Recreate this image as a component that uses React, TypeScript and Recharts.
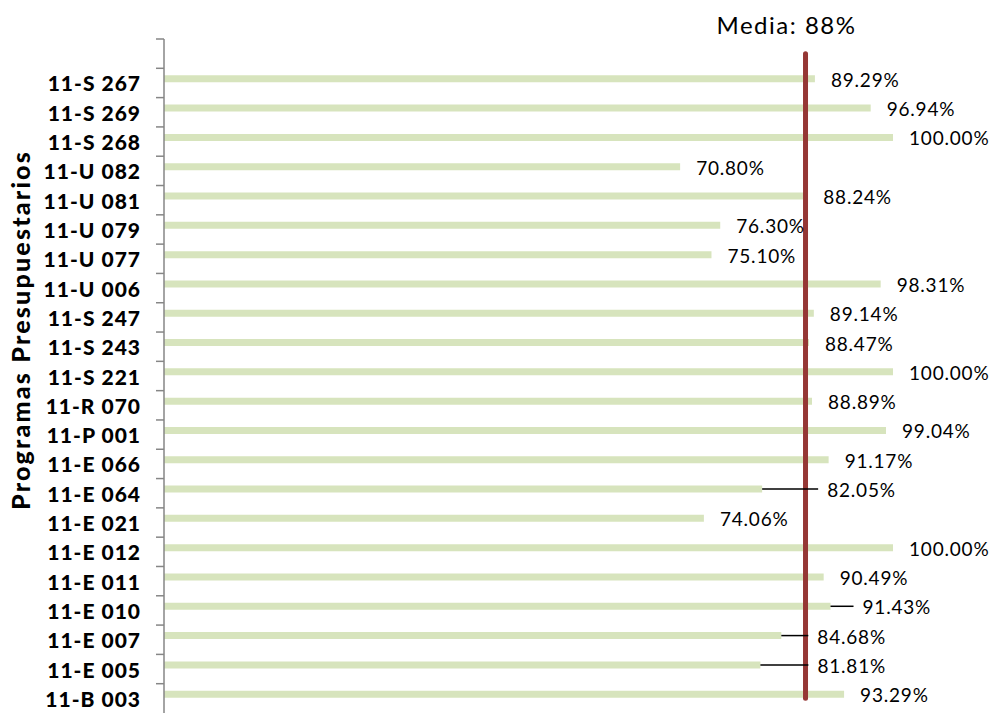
import React from 'react';
import { BarChart, Bar, XAxis, YAxis, ReferenceLine, LabelList } from 'recharts';

// la primera categoría va vacía: es el hueco de arriba donde empieza la línea de la media
const programas = [
  ' ',
  '11-S 267', '11-S 269', '11-S 268', '11-U 082', '11-U 081', '11-U 079', '11-U 077',
  '11-U 006', '11-S 247', '11-S 243', '11-S 221', '11-R 070', '11-P 001', '11-E 066',
  '11-E 064', '11-E 021', '11-E 012', '11-E 011', '11-E 010', '11-E 007', '11-E 005',
  '11-B 003',
];

const cumplimiento = [
  null,
  89.29, 96.94, 100.0, 70.8, 88.24, 76.3, 75.1,
  98.31, 89.14, 88.47, 100.0, 88.89, 99.04, 91.17,
  82.05, 74.06, 100.0, 90.49, 91.43, 84.68, 81.81,
  93.29,
];

const media = 88;
const xTicks = [0, 20, 40, 60, 80, 100];

const data = programas.map((programa, i) => ({ programa, valor: cumplimiento[i] }));

const FONT = 'Lato, "Open Sans", sans-serif';
const AXIS = '#868686';

// etiquetas que en el original se movieron a mano (con línea guía)
const leaderGap: Record<string, number> = {
  '11-E 064': 65,
  '11-E 010': 32,
  '11-E 007': 36,
  '11-E 005': 57,
};

const YTick = (props: any) => {
  const { x, y, payload, height, visibleTicksCount } = props;
  const half = payload.offset > 4 ? payload.offset : height / visibleTicksCount / 2;
  return (
    <g>
      <line x1={x - 8} x2={x} y1={y - half} y2={y - half} stroke={AXIS} strokeWidth={1.5} />
      <text x={x - 23} y={y + 8.5} textAnchor="end" fontFamily={FONT} fontWeight={900} fontSize={21} letterSpacing={1} fill="#000">
        {payload.value}
      </text>
    </g>
  );
};

const XTick = ({ x, y }: any) => (
  <line x1={x} x2={x} y1={y - 6} y2={y + 3} stroke={AXIS} strokeWidth={1.5} />
);

// la LabelList va por nombre de programa y busca el valor, así no depende del índice
const ValueLabel = (props: any) => {
  const { x, y, width, height, value } = props;
  const i = programas.indexOf(value);
  const v = i >= 0 ? cumplimiento[i] : null;
  if (v == null) return null;
  const gap = leaderGap[value];
  const end = x + width;
  const cy = y + height / 2;
  const tx = end + (gap ?? 16);
  return (
    <g>
      {gap && <line x1={end} x2={tx - 9} y1={cy} y2={cy} stroke="#000" strokeWidth={1.5} />}
      <text x={tx} y={cy + 8} fontFamily={FONT} fontSize={19} letterSpacing={0.8} fill="#000">
        {v.toFixed(2)}%
      </text>
    </g>
  );
};

const MediaLabel = (props: any) => {
  const { viewBox } = props;
  return (
    <text x={viewBox.x - 19} y={viewBox.y - 19.5} textAnchor="middle" fontFamily={FONT} fontSize={24} letterSpacing={1.5} fill="#000">
      Media: {media}%
    </text>
  );
};

export default function App() {
  return (
    <div style={{ position: 'absolute', left: 0, top: 0, background: '#fff' }}>
      <BarChart
        width={997}
        height={715}
        data={data}
        layout="vertical"
        margin={{ top: 39, right: 104, bottom: 2, left: 0 }}
        barSize={7}
        barGap={1}
      >
        <XAxis
          type="number"
          domain={[0, 100]}
          ticks={xTicks}
          interval={0}
          height={0}
          stroke={AXIS}
          strokeWidth={1.5}
          tickLine={false}
          tickSize={0}
          tickMargin={0}
          tick={<XTick />}
        />
        <YAxis
          type="category"
          dataKey="programa"
          width={164}
          interval={0}
          stroke={AXIS}
          strokeWidth={1.5}
          tickLine={false}
          tickSize={0}
          tickMargin={0}
          tick={<YTick />}
        />
        <Bar dataKey="valor" fill="#d7e4bd" isAnimationActive={false}>
          <LabelList dataKey="programa" content={<ValueLabel />} />
        </Bar>
        {/* serie vacía: deja la barra verde un poco por encima del centro, como en el original */}
        <Bar dataKey="hueco" fill="none" isAnimationActive={false} />
        <ReferenceLine
          segment={[
            { x: media, y: programas[0] },
            { x: media, y: programas[programas.length - 1] },
          ]}
          stroke="#953735"
          strokeWidth={5}
          strokeLinecap="round"
          label={MediaLabel}
        />
      </BarChart>
      <svg width={60} height={715} style={{ position: 'absolute', left: 0, top: 0 }}>
        <text
          transform="translate(30, 330) rotate(-90)"
          textAnchor="middle"
          fontFamily={FONT}
          fontWeight={900}
          fontSize={25}
          letterSpacing={2.2}
          fill="#000"
        >
          Programas Presupuestarios
        </text>
      </svg>
    </div>
  );
}
